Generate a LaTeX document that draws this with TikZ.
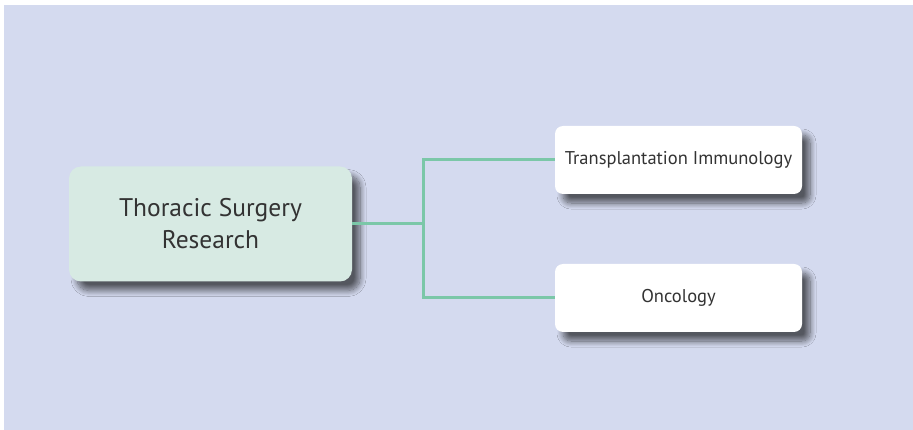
\documentclass[tikz,border=0pt]{standalone}
\usepackage{fontspec}
\setmainfont{PT Sans}
\usetikzlibrary{shadows.blur}
\definecolor{bgc}{HTML}{D4DAEF}
\definecolor{mainfill}{HTML}{D7EAE3}
\definecolor{linec}{HTML}{7BC7A8}
\definecolor{txt}{HTML}{333333}
\tikzset{
  boxshadow/.style={blur shadow={shadow xshift=8pt, shadow yshift=-9pt, shadow blur radius=6pt, shadow opacity=60, shadow blur steps=12}},
  mainbox/.style={draw=none, fill=mainfill, rounded corners=12pt, minimum width=283pt, minimum height=115pt, inner sep=0pt, align=center, text=txt, font=\fontsize{25.5}{32}\selectfont, boxshadow},
  subbox/.style={draw=none, fill=white, rounded corners=8pt, minimum width=247pt, minimum height=68pt, inner sep=0pt, align=center, text=txt, font=\fontsize{18.5}{22}\selectfont, boxshadow},
  conn/.style={draw=linec, line width=3pt}
}
\begin{document}
\begin{tikzpicture}[x=1pt,y=-1pt]
\useasboundingbox (0,0) rectangle (913,430);
\fill[bgc] (4,5) rectangle (913,430);
\node[mainbox] (m) at (210.5,224) {Thoracic Surgery\\Research};
\node[subbox] (t) at (678.5,160) {Transplantation Immunology};
\node[subbox] (o) at (678.5,298) {Oncology};
\coordinate (j) at (423,224);
\draw[conn] (m.east) -- (j);
\draw[conn] (t.west) -| (j) |- (o.west);
\end{tikzpicture}
\end{document}
